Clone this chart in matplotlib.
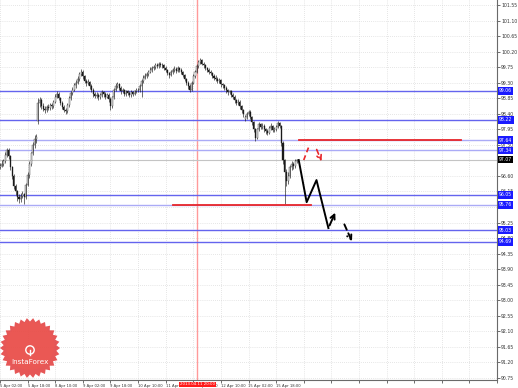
import numpy as np
import matplotlib
matplotlib.use("Agg")
import matplotlib.pyplot as plt
import matplotlib.transforms as mtransforms

# hourly bars, index 0 = 5 Apr 02:00
opens = [96.85, 96.90, 96.95, 97.02, 97.20, 97.35, 97.18, 96.85, 96.60, 96.30,
         96.15, 96.00, 95.92, 96.02, 96.08, 95.98, 96.35, 96.62, 96.95, 97.25,
         97.50, 97.68, 98.20, 98.72, 98.80, 98.62, 98.55, 98.50, 98.60, 98.58,
         98.66, 98.62, 98.75, 98.90, 98.98, 98.85, 98.72, 98.60, 98.52, 98.48,
         98.65, 98.85, 99.00, 99.10, 99.22, 99.30, 99.40, 99.55, 99.62, 99.48,
         99.35, 99.28, 99.32, 99.20, 99.10, 98.98, 98.92, 98.95, 98.88, 98.95,
         99.02, 98.98, 98.90, 98.95, 98.82, 98.62, 98.88, 99.10, 99.20, 99.25,
         99.15, 99.05, 99.08, 98.98, 99.05, 99.00, 98.95, 99.02, 98.98, 99.05,
         99.10, 99.08, 99.20, 99.35, 99.45, 99.50, 99.55, 99.62, 99.68, 99.72,
         99.75, 99.80, 99.78, 99.85, 99.82, 99.80, 99.74, 99.66, 99.58, 99.52,
         99.60, 99.66, 99.70, 99.65, 99.72, 99.68, 99.60, 99.52, 99.40, 99.30,
         99.20, 99.10, 99.30, 99.50, 99.62, 99.78, 99.90, 99.96, 99.85, 99.80,
         99.72, 99.68, 99.60, 99.58, 99.50, 99.45, 99.42, 99.35, 99.38, 99.25,
         99.22, 99.15, 99.08, 99.02, 99.05, 98.95, 98.90, 98.80, 98.72, 98.75,
         98.62, 98.50, 98.25, 98.30, 98.40, 98.45, 98.30, 98.15, 97.95, 97.70,
         97.95, 98.10, 98.02, 98.05, 97.95, 97.90, 97.85, 97.98, 98.05, 97.92,
         97.95, 98.02, 98.12, 98.05, 97.55, 97.05, 96.70, 96.45, 96.60, 96.85,
         96.95, 96.88, 97.02]
closes = [96.90, 96.95, 97.02, 97.20, 97.35, 97.18, 96.85, 96.60, 96.30, 96.15,
          96.00, 95.92, 96.02, 96.08, 95.98, 96.35, 96.62, 96.95, 97.25, 97.50,
          97.68, 97.72, 98.72, 98.80, 98.62, 98.55, 98.50, 98.60, 98.58, 98.66,
          98.62, 98.75, 98.90, 98.98, 98.85, 98.72, 98.60, 98.52, 98.48, 98.65,
          98.85, 99.00, 99.10, 99.22, 99.30, 99.40, 99.55, 99.62, 99.48, 99.35,
          99.28, 99.32, 99.20, 99.10, 98.98, 98.92, 98.95, 98.88, 98.95, 99.02,
          98.98, 98.90, 98.95, 98.82, 98.62, 98.88, 99.10, 99.20, 99.25, 99.15,
          99.05, 99.08, 98.98, 99.05, 99.00, 98.95, 99.02, 98.98, 99.05, 99.10,
          99.08, 99.20, 99.35, 99.45, 99.50, 99.55, 99.62, 99.68, 99.72, 99.75,
          99.80, 99.78, 99.85, 99.82, 99.80, 99.74, 99.66, 99.58, 99.52, 99.60,
          99.66, 99.70, 99.65, 99.72, 99.68, 99.60, 99.52, 99.40, 99.30, 99.20,
          99.10, 99.30, 99.50, 99.62, 99.78, 99.90, 99.96, 99.85, 99.80, 99.72,
          99.68, 99.60, 99.58, 99.50, 99.45, 99.42, 99.35, 99.38, 99.25, 99.22,
          99.15, 99.08, 99.02, 99.05, 98.95, 98.90, 98.80, 98.72, 98.75, 98.62,
          98.50, 98.38, 98.30, 98.40, 98.45, 98.30, 98.15, 97.95, 97.70, 97.95,
          98.10, 98.02, 98.05, 97.95, 97.90, 97.85, 97.98, 98.05, 97.92, 97.95,
          98.02, 98.12, 98.05, 97.55, 97.05, 96.70, 96.45, 96.60, 96.85, 96.95,
          96.88, 97.02, 97.07]
highs = [96.98, 97.05, 97.10, 97.28, 97.42, 97.40, 97.22, 96.90, 96.66, 96.38,
         96.20, 96.08, 96.10, 96.15, 96.12, 96.40, 96.70, 97.02, 97.30, 97.58,
         97.78, 97.80, 98.85, 98.90, 98.85, 98.70, 98.62, 98.66, 98.68, 98.72,
         98.72, 98.80, 98.96, 99.05, 99.02, 98.90, 98.78, 98.66, 98.58, 98.70,
         98.92, 99.06, 99.18, 99.28, 99.38, 99.48, 99.62, 99.70, 99.66, 99.52,
         99.40, 99.40, 99.36, 99.25, 99.14, 99.04, 99.02, 99.00, 99.00, 99.08,
         99.06, 99.04, 99.00, 99.00, 98.88, 98.92, 99.15, 99.28, 99.32, 99.30,
         99.20, 99.14, 99.12, 99.10, 99.10, 99.05, 99.08, 99.06, 99.10, 99.16,
         99.15, 99.26, 99.40, 99.52, 99.58, 99.62, 99.68, 99.75, 99.78, 99.82,
         99.86, 99.86, 99.90, 99.90, 99.88, 99.84, 99.78, 99.70, 99.62, 99.66,
         99.72, 99.78, 99.75, 99.78, 99.76, 99.72, 99.64, 99.56, 99.45, 99.35,
         99.25, 99.36, 99.56, 99.68, 99.84, 99.96, 100.02, 99.99, 99.90, 99.84,
         99.76, 99.72, 99.66, 99.62, 99.55, 99.52, 99.46, 99.44, 99.42, 99.30,
         99.26, 99.20, 99.12, 99.10, 99.08, 99.00, 98.95, 98.84, 98.82, 98.80,
         98.66, 98.55, 98.36, 98.46, 98.52, 98.50, 98.34, 98.20, 98.00, 98.00,
         98.16, 98.14, 98.12, 98.10, 98.00, 97.95, 98.04, 98.12, 98.08, 98.02,
         98.08, 98.18, 98.16, 98.08, 97.60, 97.10, 96.80, 96.70, 96.92, 97.02,
         97.00, 97.08, 97.10]
lows = [96.80, 96.86, 96.90, 96.98, 97.15, 97.10, 96.78, 96.52, 96.22, 96.05,
        95.88, 95.82, 95.85, 95.95, 95.78, 95.92, 96.30, 96.55, 96.90, 97.20,
        97.42, 97.55, 98.10, 98.60, 98.55, 98.48, 98.42, 98.45, 98.52, 98.52,
        98.55, 98.58, 98.70, 98.85, 98.80, 98.66, 98.55, 98.45, 98.38, 98.42,
        98.60, 98.80, 98.94, 99.05, 99.15, 99.25, 99.35, 99.48, 99.40, 99.28,
        99.20, 99.22, 99.12, 99.02, 98.90, 98.85, 98.86, 98.80, 98.82, 98.90,
        98.90, 98.84, 98.85, 98.75, 98.50, 98.58, 98.84, 99.05, 99.14, 99.08,
        98.98, 99.00, 98.92, 98.92, 98.94, 98.88, 98.90, 98.92, 98.94, 99.00,
        99.02, 99.04, 98.90, 99.30, 99.40, 99.45, 99.50, 99.58, 99.62, 99.66,
        99.70, 99.72, 99.74, 99.76, 99.74, 99.68, 99.60, 99.52, 99.45, 99.48,
        99.55, 99.62, 99.58, 99.60, 99.62, 99.54, 99.46, 99.34, 99.24, 99.12,
        99.02, 99.06, 99.25, 99.45, 99.58, 99.72, 99.84, 99.80, 99.74, 99.66,
        99.60, 99.55, 99.52, 99.44, 99.38, 99.36, 99.28, 99.30, 99.18, 99.14,
        99.08, 99.00, 98.95, 98.96, 98.88, 98.82, 98.72, 98.65, 98.66, 98.55,
        98.42, 98.30, 98.18, 98.24, 98.35, 98.24, 98.08, 97.88, 97.62, 97.66,
        97.90, 97.95, 97.96, 97.88, 97.82, 97.78, 97.80, 97.94, 97.86, 97.86,
        97.90, 97.98, 97.98, 97.48, 96.95, 95.78, 96.30, 96.38, 96.55, 96.78,
        96.80, 96.84, 96.98]

time_labels = ["5 Apr 02:00", "5 Apr 18:00", "8 Apr 10:00", "9 Apr 02:00", "9 Apr 18:00",
               "10 Apr 10:00", "11 Apr 02:00", "11 Apr 18:00", "12 Apr 10:00",
               "15 Apr 02:00", "15 Apr 18:00"]
level_prices = [99.06, 98.22, 97.64, 97.34, 96.05, 95.76, 95.03, 94.69]
level_colors = ['#6464ee', '#6464ee', '#ababf6', '#ababf6', '#6464ee', '#ababf6', '#6464ee', '#6464ee']
bid = 97.07
resist_price, resist_from, resist_to = 97.64, 173, 267
support_price, support_from, support_to = 95.76, 100, 180
separator_bar = 114

# projected paths (bar index, price)
path_x = [173.1, 177.7, 183.4, 190.3]
path_y = [97.06, 95.84, 96.48, 95.09]
path_tip = (194.9, 95.61)
dash_from, dash_to = (198.9, 95.27), (204.6, 94.63)
red_up = [(176.0, 97.06), (178.9, 97.44)]
red_down = [(182.9, 97.44), (186.9, 96.95)]

fig = plt.figure(figsize=(5.18, 3.88), dpi=100)
ax = fig.add_axes([0, 8 / 388, 497 / 518, 380 / 388])

idx = np.arange(len(closes))
ax.vlines(idx, lows, highs, color='#1a1a1a', lw=0.45, zorder=3)
for i in idx:
    o, c = opens[i], closes[i]
    up = c >= o
    ax.bar(i, max(abs(c - o), 0.008), bottom=min(o, c), width=0.6,
           color='white' if up else '#1a1a1a', edgecolor='#1a1a1a', lw=0.25, zorder=4)

for p, col in zip(level_prices, level_colors):
    ax.axhline(p, color=col, lw=1, zorder=2)
ax.axhline(bid, color='#c4c4c4', lw=0.8, zorder=2)
ax.axvline(separator_bar, color='#ff9a9a', lw=1, zorder=1)

ax.plot([resist_from, resist_to], [resist_price, resist_price], color='#e8262a', lw=1.3, zorder=5)
ax.plot([support_from, support_to], [support_price, support_price], color='#e8262a', lw=1.3, zorder=5)

ax.plot(path_x, path_y, color='black', lw=1.4, zorder=6)
ax.annotate('', xy=path_tip, xytext=(path_x[-1], path_y[-1]),
            arrowprops=dict(arrowstyle='->', color='black', lw=1.4, mutation_scale=8))
ax.annotate('', xy=dash_to, xytext=dash_from,
            arrowprops=dict(arrowstyle='->', color='black', lw=1.4, ls=(0, (3, 2)), mutation_scale=8))
ax.plot([red_up[0][0], red_up[1][0]], [red_up[0][1], red_up[1][1]], color='#e8262a', lw=1.2, ls=(0, (3, 2)))
ax.annotate('', xy=red_down[1], xytext=red_down[0],
            arrowprops=dict(arrowstyle='->', color='#e8262a', lw=1.2, ls=(0, (3, 2)), mutation_scale=8))

# axes, ticks, grid
ax.set_xlim(1.7, 285.7)
ax.set_ylim(90.69, 101.695)
yt = np.arange(90.75, 101.6, 0.45)
ax.set_yticks(yt)
ax.set_yticklabels(['%.2f' % v for v in yt])
ax.yaxis.tick_right()
xt = np.arange(0, 289, 16)
ax.set_xticks(xt)
ax.set_xticklabels(time_labels + [''] * (len(xt) - len(time_labels)), ha='left')
ax.tick_params(axis='y', labelsize=3.3, colors='#333333', length=2, width=0.5, pad=1)
ax.tick_params(axis='x', labelsize=2.7, colors='#333333', length=2, width=0.5, pad=0.8)
ax.grid(True, color='#cfcfcf', lw=0.5, ls=(0, (1, 2)))
for s in ['top', 'left']:
    ax.spines[s].set_visible(False)
for s in ['right', 'bottom']:
    ax.spines[s].set_color('#6a6a6a')
    ax.spines[s].set_linewidth(0.8)

trans = mtransforms.blended_transform_factory(ax.transAxes, ax.transData)
for p in level_prices:
    ax.text(1.004, p, '%.2f' % p, transform=trans, fontsize=3.3, color='white', va='center', ha='left',
            bbox=dict(boxstyle='square,pad=0.25', fc='#1a1aff', ec='none'), clip_on=False, zorder=10)
ax.text(1.004, bid, '%.2f' % bid, transform=trans, fontsize=3.3, color='white', va='center', ha='left',
        bbox=dict(boxstyle='square,pad=0.25', fc='black', ec='none'), clip_on=False, zorder=10)

trans_x = mtransforms.blended_transform_factory(ax.transData, ax.transAxes)
ax.text(separator_bar + 0.5, -0.006, '2013.04.11 20:00', transform=trans_x, fontsize=2.8, color='white',
        va='top', ha='center', bbox=dict(boxstyle='square,pad=0.2', fc='#ff1a1a', ec='none'),
        clip_on=False, zorder=10)

# InstaForex badge
over = fig.add_axes([0, 0, 1, 1], facecolor='none')
over.set_xlim(0, 518)
over.set_ylim(388, 0)
over.axis('off')
ang = np.linspace(0, 2 * np.pi, 61)
rad = np.where(np.arange(61) % 2 == 0, 30, 26.5)
over.fill(30 + rad * np.cos(ang), 348 + rad * np.sin(ang), color='#e23a3a', alpha=0.85, lw=0)
over.add_patch(plt.Circle((30, 346), 24, color='#ee5a52', alpha=0.5, lw=0))
over.add_patch(plt.Circle((30, 350), 4.2, fill=False, ec='white', lw=1.0))
over.plot([30, 30], [350, 355], color='white', lw=1.0)
over.text(30, 362, 'InstaForex', color='white', fontsize=5.2, ha='center', va='center')

fig.savefig('out.png', dpi=100)
